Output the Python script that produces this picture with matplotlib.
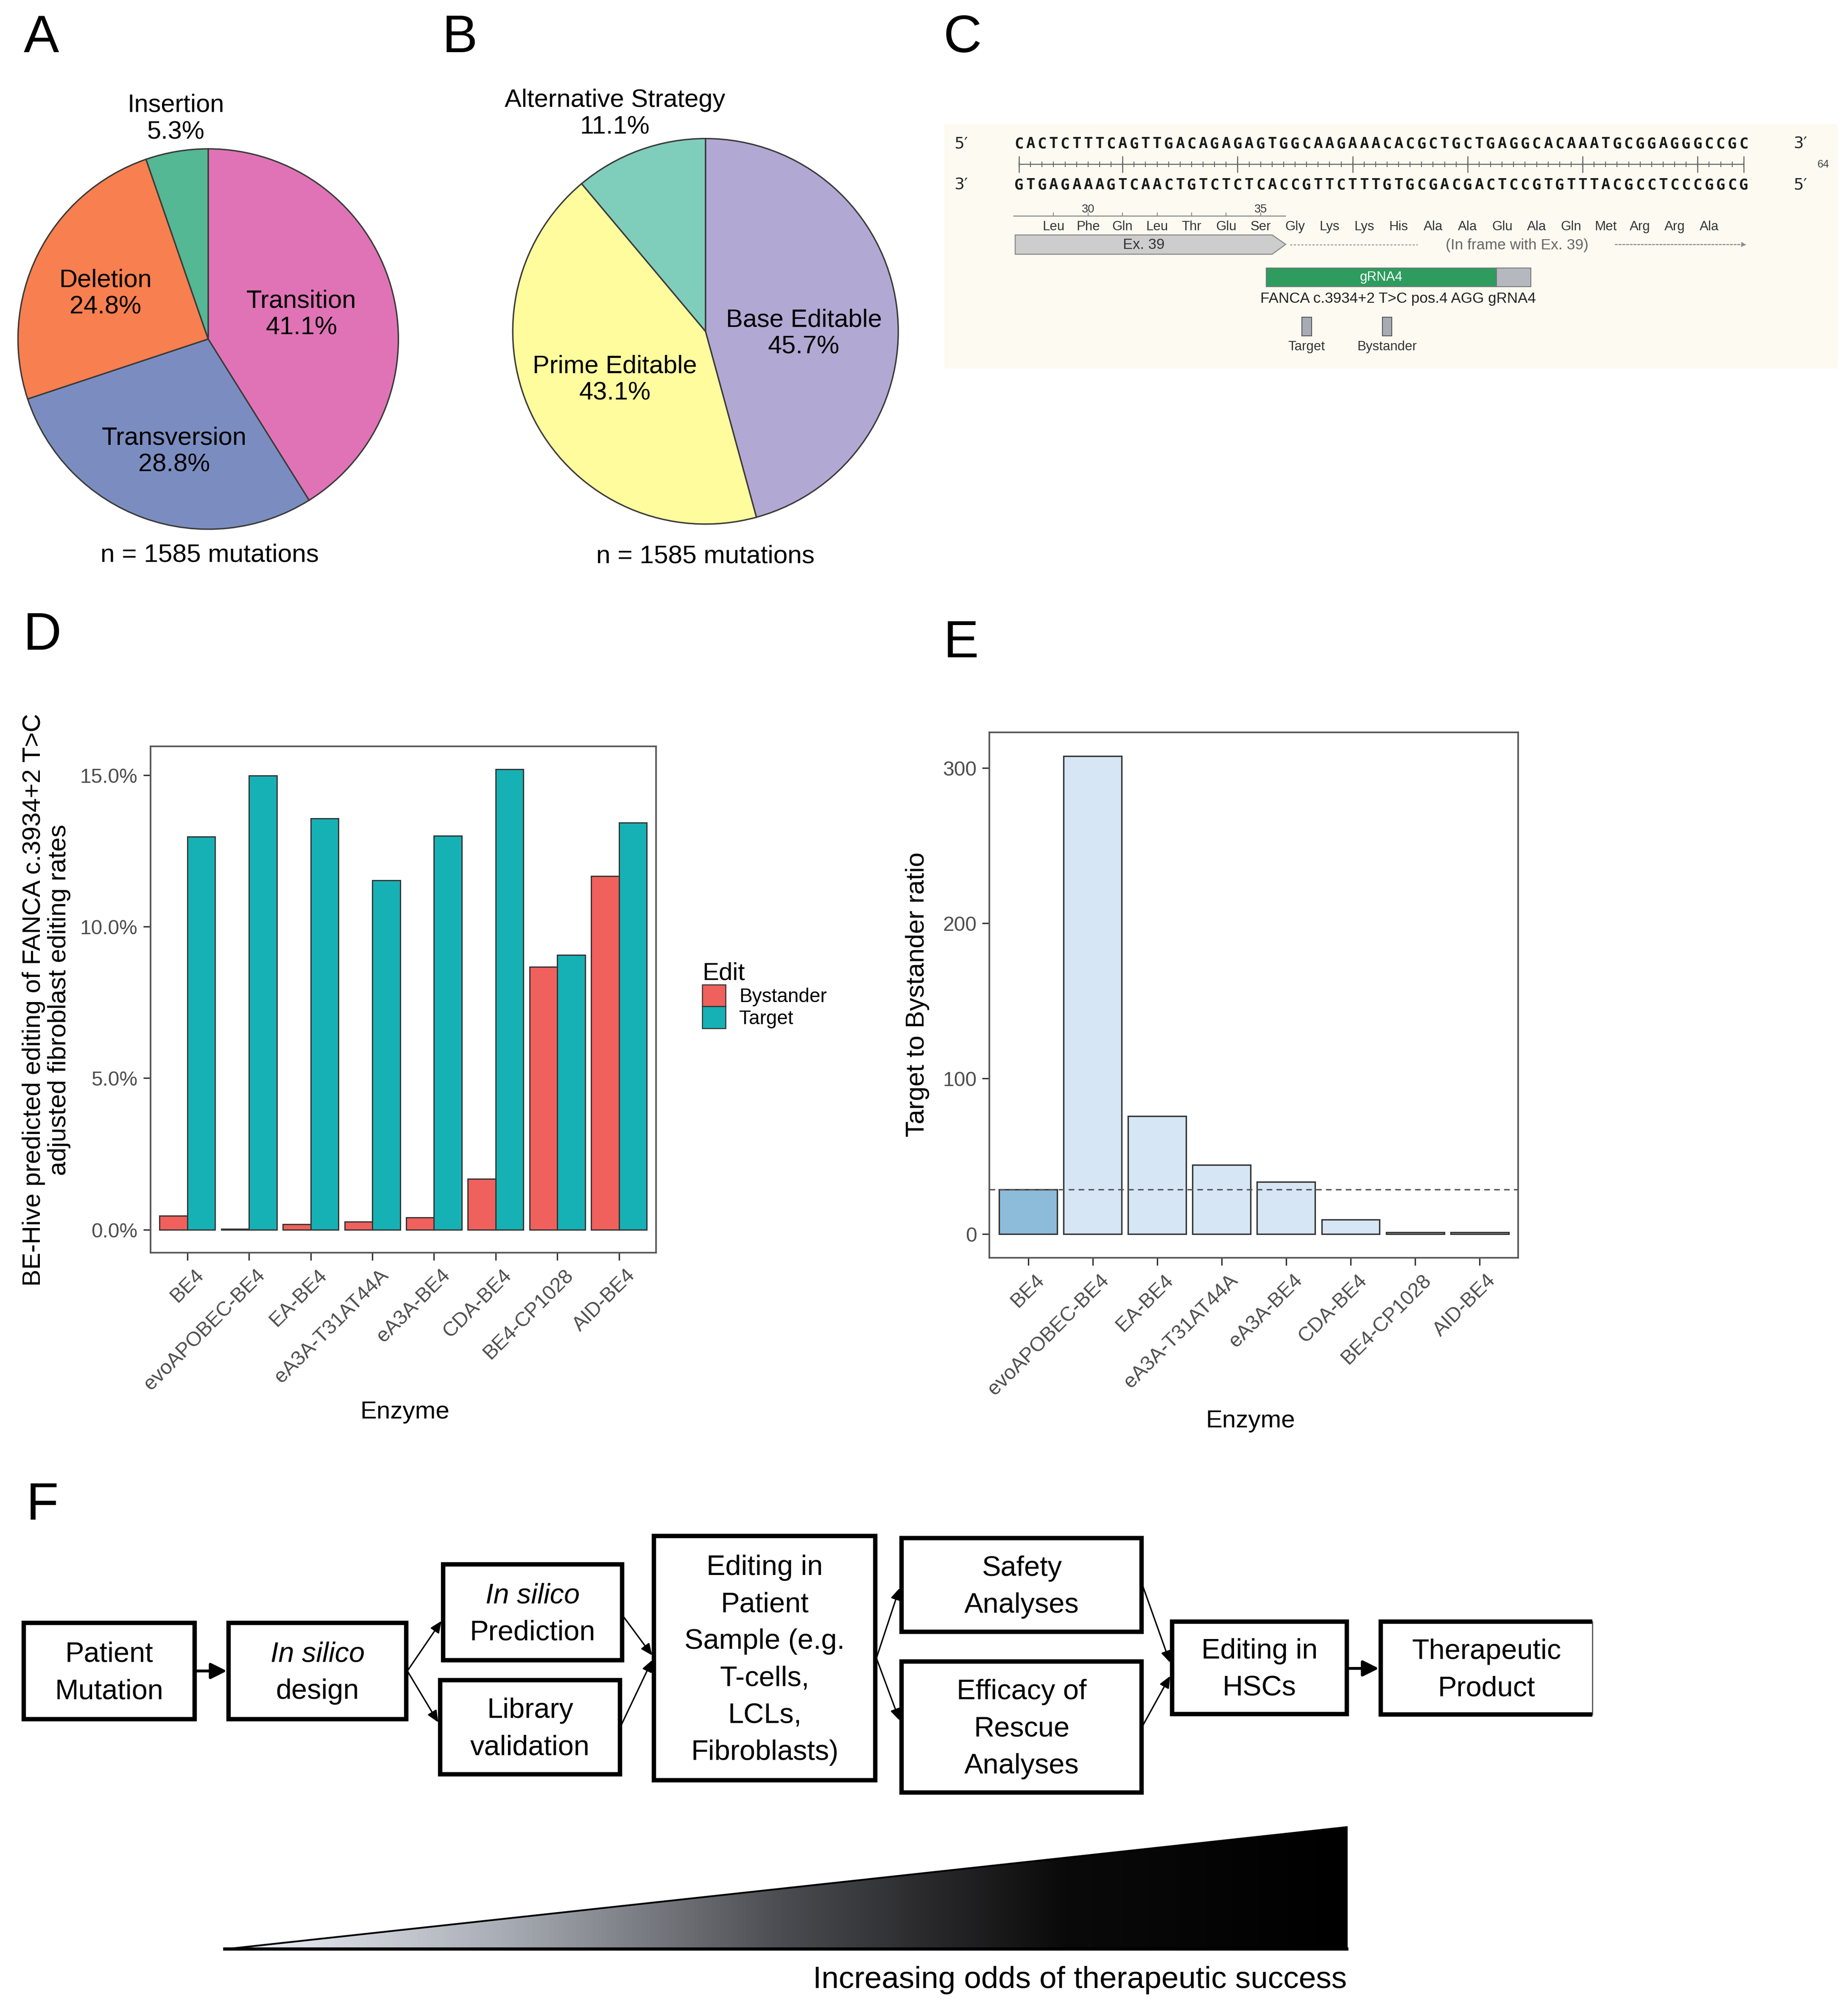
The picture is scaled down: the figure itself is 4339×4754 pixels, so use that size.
import numpy as np
import matplotlib
matplotlib.use("Agg")
import matplotlib.pyplot as plt
import matplotlib.transforms as mtransforms
from matplotlib.patches import Rectangle, Polygon, Patch
from matplotlib.colors import LinearSegmentedColormap

plt.rcParams["font.family"] = ["Liberation Sans", "DejaVu Sans"]

# ---------------- data ----------------
# A: mutation types
mut_labels = ["Transition", "Transversion", "Deletion", "Insertion"]
mut_pct = [41.1, 28.8, 24.8, 5.3]
mut_colors = ["#E073B6", "#7B8DC0", "#F87F4F", "#53B893"]

# B: editing strategy
strat_labels = ["Base Editable", "Prime Editable", "Alternative Strategy"]
strat_pct = [45.7, 43.1, 11.1]
strat_colors = ["#B1A9D3", "#FFFC9E", "#7FCDBB"]
n_mut = 1585

# C: FANCA locus
seq_top = "CACTCTTTCAGTTGACAGAGAGTGGCAAGAAACACGCTGCTGAGGCACAAATGCGGAGGGCCGC"
seq_bot = "GTGAGAAAGTCAACTGTCTCTCACCGTTCTTTGTGCGACGACTCCGTGTTTACGCCTCCCGGCG"
amino = ["Leu", "Phe", "Gln", "Leu", "Thr", "Glu", "Ser", "Gly", "Lys", "Lys",
         "His", "Ala", "Ala", "Glu", "Ala", "Gln", "Met", "Arg", "Arg", "Ala"]
aa_first_num = 29
exon_aa = 7
grna_start, grna_len, pam_len = 23, 20, 3
target_pos, bystander_pos = 26, 33
ruler_major = [1, 10, 20, 30, 40, 50, 60, 64]

# D / E: BE-Hive predictions
enzymes = ["BE4", "evoAPOBEC-BE4", "EA-BE4", "eA3A-T31AT44A", "eA3A-BE4",
           "CDA-BE4", "BE4-CP1028", "AID-BE4"]
bystander = [0.46, 0.03, 0.18, 0.26, 0.40, 1.68, 8.68, 11.67]
target = [12.97, 14.98, 13.57, 11.53, 13.00, 15.19, 9.06, 13.43]
ratio = [28.5, 307.5, 75.7, 44.4, 33.5, 9.1, 1.04, 1.15]

# F: workflow
flow_steps = ["Patient\nMutation", "In silico\ndesign", "In silico\nPrediction",
              "Library\nvalidation",
              "Editing in\nPatient\nSample (e.g.\nT-cells,\nLCLs,\nFibroblasts)",
              "Safety\nAnalyses", "Efficacy of\nRescue\nAnalyses",
              "Editing in\nHSCs", "Therapeutic\nProduct"]
flow_links = [(0, 1), (1, 2), (1, 3), (2, 4), (3, 4), (4, 5), (4, 6), (5, 7), (6, 7), (7, 8)]
gradient_caption = "Increasing odds of therapeutic success"

# ---------------- layout (reference px) ----------------
W, H = 1432.0, 1569.0


def box(x0, y0, x1, y1):
    return [x0 / W, 1 - y1 / H, (x1 - x0) / W, (y1 - y0) / H]


fig = plt.figure(figsize=(4339.5 / 300, 4754.5 / 300), dpi=300)

letters = {"A": (32, 30), "B": (358, 30), "C": (749, 30),
           "D": (33, 495), "E": (748, 501), "F": (33, 1172)}
for k, (lx, ly) in letters.items():
    fig.text(lx / W, 1 - ly / H, k, fontsize=30, ha="center", va="center")

# ---------------- A and B: pies ----------------
def pie_panel(rect, vals, cols, labs, lab_pos, n_y, n_x):
    ax = fig.add_axes(box(*rect))
    wedges, _ = ax.pie(vals, colors=cols, startangle=90, counterclock=False,
                       wedgeprops=dict(edgecolor="#3a3a3a", linewidth=0.8))
    for w in wedges:
        w.set_clip_on(False)
    ax.set_xlim(-1, 1)
    ax.set_ylim(-1, 1)
    for lab, v, (lx, ly) in zip(labs, vals, lab_pos):
        ax.text(lx, ly, f"{lab}\n{v:.1f}%", ha="center", va="center",
                fontsize=14.3, clip_on=False)
    fig.text(n_x / W, 1 - n_y / H, f"n = {n_mut} mutations", ha="center",
             va="center", fontsize=14.5)


pie_panel((14, 116, 310, 412), mut_pct, mut_colors, mut_labels,
          [(0.49, 0.13), (-0.18, -0.59), (-0.54, 0.24), (-0.17, 1.16)], 432, 163)
pie_panel((399, 108, 699, 408), strat_pct, strat_colors, strat_labels,
          [(0.51, -0.01), (-0.47, -0.25), (-0.47, 1.13)], 433, 549)

# ---------------- C: locus map ----------------
axC = fig.add_axes(box(735, 97, 1430, 287))
axC.set_facecolor("#FCFAF1")
for s in axC.spines.values():
    s.set_visible(False)
axC.set_xticks([])
axC.set_yticks([])
px = 8.95


def bpos(xd):
    return (xd - 793) / px + 1


axC.set_xlim(bpos(735), bpos(1430))
axC.set_ylim(287, 97)

seq_kw = dict(ha="center", va="center", fontsize=8.6, family="DejaVu Sans Mono",
              weight="bold", color="#1a1a1a")
for i, (t, b) in enumerate(zip(seq_top, seq_bot)):
    axC.text(i + 1, 112, t, **seq_kw)
    axC.text(i + 1, 144, b, **seq_kw)
end_kw = dict(ha="center", va="center", fontsize=9, family="DejaVu Sans", color="#222")
axC.text(bpos(748), 112, "5\u2032", **end_kw)
axC.text(bpos(748), 144, "3\u2032", **end_kw)
axC.text(bpos(1401), 112, "3\u2032", **end_kw)
axC.text(bpos(1401), 144, "5\u2032", **end_kw)

nb = len(seq_top)
axC.hlines(128, 1, nb, color="#666666", lw=0.6)
axC.vlines(np.arange(1, nb + 1), 125.8, 130.2, color="#666666", lw=0.5)
axC.vlines(ruler_major, 121.5, 134.5, color="#666666", lw=0.6)
axC.text(bpos(1419), 128, str(nb), ha="center", va="center", fontsize=6, color="#444")

# amino acids
aa_x = [4 + 3 * k for k in range(len(amino))]
axC.hlines(168, bpos(788.5), bpos(1000.5), color="#888888", lw=0.6)
axC.vlines(aa_x[:exon_aa], 165.5, 168, color="#888888", lw=0.5)
for k in range(exon_aa):
    num = aa_first_num + k
    if num % 5 == 0:
        axC.text(aa_x[k], 163, str(num), ha="center", va="center", fontsize=6.5, color="#333")
for xk, aa in zip(aa_x, amino):
    axC.text(xk, 176.5, aa, ha="center", va="center", fontsize=7.5, color="#333")

ex = Polygon([(bpos(790), 183), (bpos(990), 183), (bpos(1000.5), 190.3),
              (bpos(990), 198), (bpos(790), 198)], closed=True,
             fc="#CDCDCD", ec="#8a8a8a", lw=0.6)
axC.add_patch(ex)
axC.text(bpos(890), 190.5, "Ex. 39", ha="center", va="center", fontsize=8.3, color="#333")
axC.plot([bpos(1004), bpos(1103)], [190.5, 190.5], color="#9a9a9a", lw=0.6,
         ls=(0, (2, 1.5)))
axC.text(bpos(1180.5), 191, "(In frame with Ex. 39)", ha="center", va="center",
         fontsize=8.5, color="#666666")
axC.annotate("", xy=(bpos(1359), 190.5), xytext=(bpos(1257), 190.5),
             arrowprops=dict(arrowstyle="-|>", color="#8a8a8a", lw=0.6,
                             ls=(0, (2, 1.5)), mutation_scale=5,
                             shrinkA=0, shrinkB=0))

g0 = grna_start - 0.5
axC.add_patch(Rectangle((g0, 208.6), grna_len, 14.5, fc="#2E9B5F", ec="#777", lw=0.5))
axC.add_patch(Rectangle((g0 + grna_len, 208.6), pam_len, 14.5, fc="#B5B8BF",
                        ec="#777", lw=0.5))
axC.text(g0 + grna_len / 2, 215.8, "gRNA4", ha="center", va="center", fontsize=7.5,
         color="white")
axC.text(bpos(1088), 232.5, "FANCA c.3934+2 T>C pos.4 AGG gRNA4", ha="center",
         va="center", fontsize=8.4, color="#222")
for pos, lab in [(target_pos, "Target"), (bystander_pos, "Bystander")]:
    axC.add_patch(Rectangle((pos - 0.42, 247), 0.84, 14.5, fc="#A6ABB4",
                            ec="#555", lw=0.5))
    axC.text(pos, 270, lab, ha="center", va="center", fontsize=7.5, color="#333")

# ---------------- D and E: bar charts ----------------
tick_grey = "#4D4D4D"


def style_axes(ax):
    for s in ax.spines.values():
        s.set_color("#555555")
        s.set_linewidth(0.9)
    ax.tick_params(axis="both", length=4.2, width=0.8, color="#333333",
                   labelcolor=tick_grey, labelsize=11.5, pad=3)
    ax.set_xticks(np.arange(len(enzymes)))
    ax.set_xticklabels(enzymes, rotation=45, ha="right", va="top",
                       rotation_mode="anchor")
    shift = mtransforms.ScaledTranslation(0.05, 0, fig.dpi_scale_trans)
    for lab in ax.get_xticklabels():
        lab.set_transform(lab.get_transform() + shift)
    ax.set_xlim(-0.6, len(enzymes) - 0.4)


x = np.arange(len(enzymes))
bw = 0.45
red, teal = "#F0605C", "#16B1B4"
axD = fig.add_axes(box(117, 581, 510.5, 975))
axD.bar(x - bw / 2, bystander, bw, color=red, edgecolor="#333333", linewidth=0.7)
axD.bar(x + bw / 2, target, bw, color=teal, edgecolor="#333333", linewidth=0.7)
axD.set_ylim(-0.76, 15.95)
axD.set_yticks([0, 5, 10, 15])
axD.set_yticklabels([f"{v:.1f}%" for v in [0, 5, 10, 15]])
style_axes(axD)
fig.text(36 / W, 1 - 778 / H,
         "BE-Hive predicted editing of FANCA c.3934+2 T>C\nadjusted fibroblast editing rates",
         rotation=90, ha="center", va="center", fontsize=14.4, linespacing=1.12)
fig.text(315 / W, 1 - 1099 / H, "Enzyme", ha="center", va="center", fontsize=14)
handles = [Patch(facecolor=red, edgecolor="#333333", linewidth=0.6),
           Patch(facecolor=teal, edgecolor="#333333", linewidth=0.6)]
axD.legend(handles, ["Bystander", "Target"], title="Edit", loc="upper left",
           bbox_to_anchor=(536 / W, 1 - 738 / H), bbox_transform=fig.transFigure,
           frameon=False, fontsize=11, title_fontsize=14, handlelength=1.2,
           handleheight=1.35, handletextpad=0.7, labelspacing=0.0,
           borderpad=0.2, alignment="left")

axE = fig.add_axes(box(770, 570, 1181.5, 979))
e_colors = ["#8DBCDB"] + ["#D6E6F5"] * (len(enzymes) - 1)
axE.bar(x, ratio, 0.9, color=e_colors, edgecolor="#333333", linewidth=0.8)
axE.axhline(ratio[0], color="#555555", lw=0.8, ls=(0, (4, 3)))
axE.set_ylim(-15.4, 322.9)
axE.set_yticks([0, 100, 200, 300])
style_axes(axE)
fig.text(714 / W, 1 - 774 / H, "Target to Bystander ratio", rotation=90,
         ha="center", va="center", fontsize=14.8)
fig.text(973 / W, 1 - 1106 / H, "Enzyme", ha="center", va="center", fontsize=14)

# ---------------- F: workflow ----------------
axF = fig.add_axes([0, 0, 1, 1 - 1150 / H])
axF.set_xlim(0, W)
axF.set_ylim(H, 1150)
axF.axis("off")

flow_boxes = [(18.5, 1263, 151.5, 1338), (178, 1263, 316, 1338),
              (345, 1217.5, 484, 1292), (342.5, 1307.5, 482.5, 1381),
              (509, 1195.5, 681, 1385.5), (701.5, 1197, 888.5, 1270),
              (701.5, 1293, 888.5, 1395), (912, 1262, 1048, 1334),
              (1074.5, 1262, 1239, 1334.5)]
link_y = [(1300.5, 1300.5), (1300.5, 1261.6), (1300.5, 1340.5), (1258, 1288.4),
          (1342.5, 1292), (1290.5, 1236), (1290.5, 1339), (1235, 1294),
          (1342.6, 1304.5), (1298.5, 1298.5)]
line_gap = 28.8

for i, (txt, (x0, y0, x1, y1)) in enumerate(zip(flow_steps, flow_boxes)):
    if i == len(flow_steps) - 1:
        axF.plot([x1, x0, x0, x1], [y0, y0, y1, y1], color="black", lw=2.5,
                 solid_joinstyle="miter", solid_capstyle="butt")
        axF.plot([x1, x1], [y0, y1], color="#444444", lw=0.6)
    else:
        axF.add_patch(Rectangle((x0, y0), x1 - x0, y1 - y0, fc="white",
                                ec="black", lw=2.5, joinstyle="miter"))
    lines = txt.split("\n")
    cx, cy = (x0 + x1) / 2, (y0 + y1) / 2 + 1.5
    for j, ln in enumerate(lines):
        yy = cy + (j - (len(lines) - 1) / 2) * line_gap
        axF.text(cx, yy, ln, ha="center", va="center", fontsize=16,
                 style="italic" if ln == "In silico" else "normal")

for (a, b), (ya, yb) in zip(flow_links, link_y):
    xa = flow_boxes[a][2] + 1
    xb = flow_boxes[b][0] - 1.5
    thick = ya == yb
    axF.annotate("", xy=(xb, yb), xytext=(xa, ya),
                 arrowprops=dict(arrowstyle="-|>,head_length=0.4,head_width=0.2"
                                 if thick else "-|>,head_length=0.5,head_width=0.22",
                                 color="black", lw=1.6 if thick else 0.8,
                                 mutation_scale=19 if thick else 11,
                                 shrinkA=0, shrinkB=0))

tri = Polygon([(175, 1517), (1048, 1517), (1048, 1422)], closed=True,
              fc="none", ec="black", lw=1.0)
axF.add_patch(tri)
cmap = LinearSegmentedColormap.from_list(
    "odds", ["#F2F5FC", "#A7ABB3", "#4A4B50", "#0A0A0A", "#000000"],
    N=256)
grad = np.linspace(0, 1, 512).reshape(1, -1)
im = axF.imshow(grad, cmap=cmap, extent=(175, 1048, 1517, 1422), aspect="auto",
                interpolation="bilinear")
im.set_clip_path(tri)
axF.plot([175, 1048], [1517, 1517], color="black", lw=1.8)
axF.text(1048, 1541, gradient_caption, ha="right", va="center", fontsize=17.5)

fig.savefig("out.png", dpi=300, facecolor="white")
